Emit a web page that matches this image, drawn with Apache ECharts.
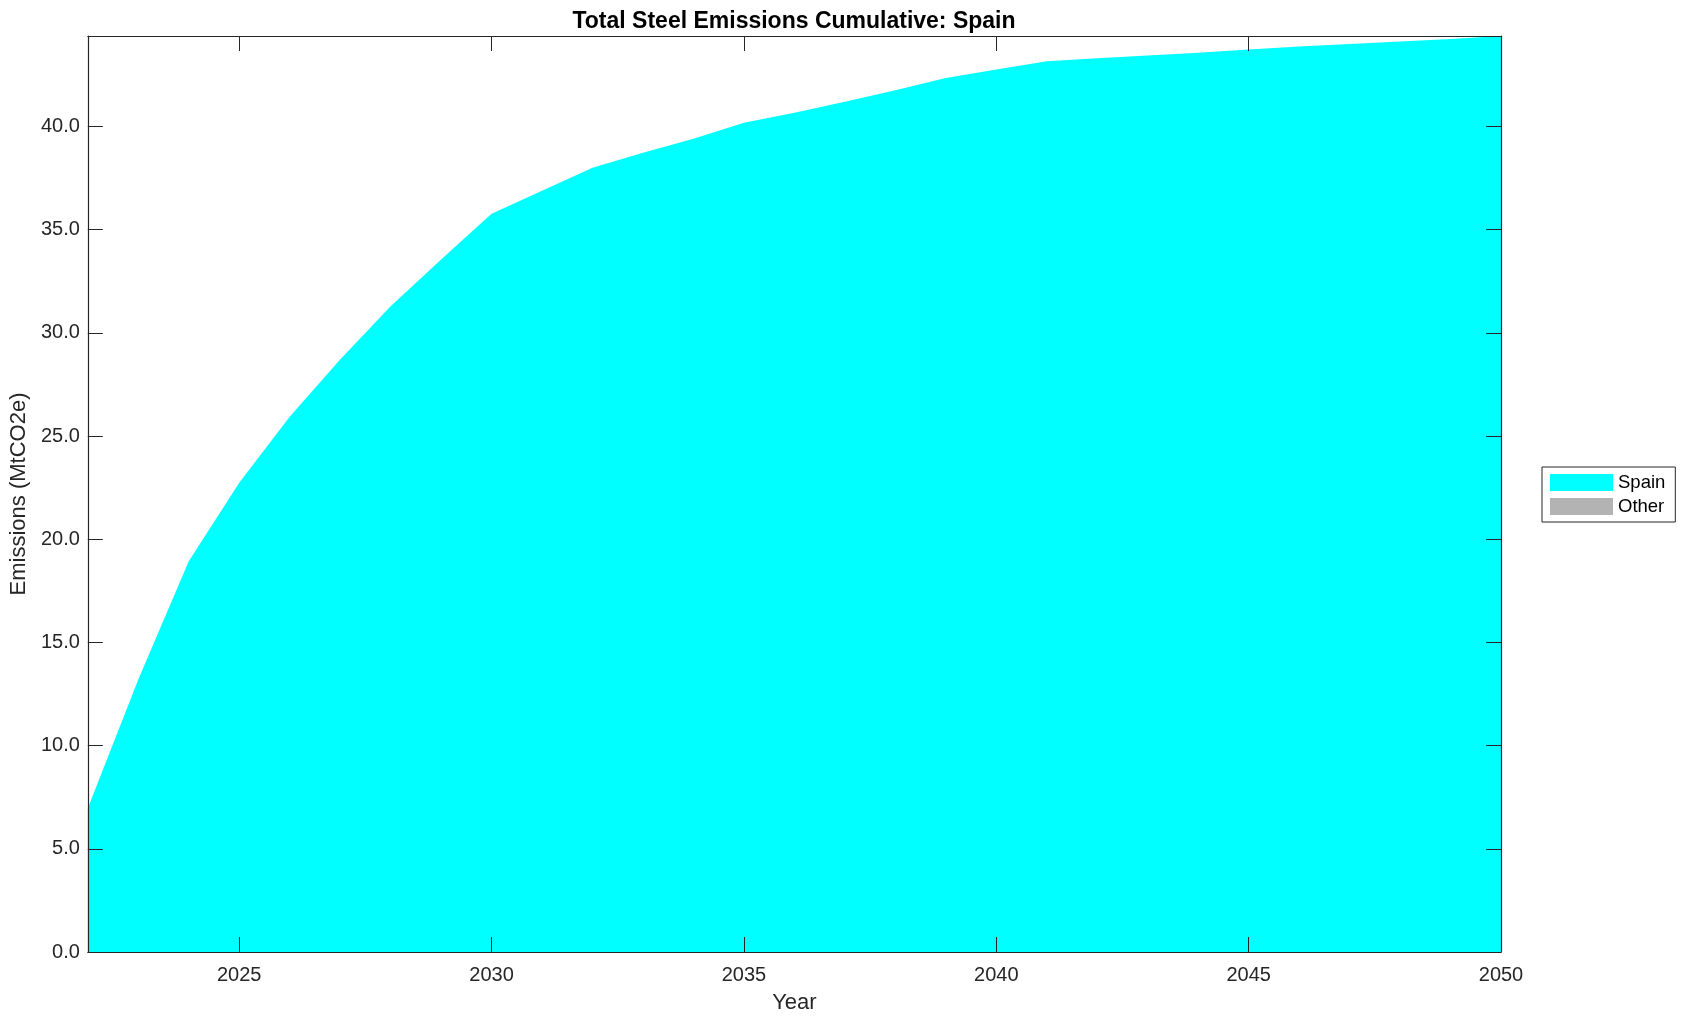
<!DOCTYPE html>
<html>
<head>
<meta charset="utf-8">
<script src="https://cdn.jsdelivr.net/npm/echarts@6/dist/echarts.min.js"></script>
<style>
  html, body { margin: 0; padding: 0; background: #ffffff; }
  #chart { width: 1687px; height: 1021px; }
</style>
</head>
<body>
<div id="chart"></div>
<script>
// ---- data ----
const years = [2022, 2023, 2024, 2025, 2026, 2027, 2028, 2029, 2030, 2031, 2032, 2033, 2034, 2035,
               2036, 2037, 2038, 2039, 2040, 2041, 2042, 2043, 2044, 2045, 2046, 2047, 2048, 2049, 2050];
const spain = [6.97, 13.2, 18.93, 22.73, 25.93, 28.71, 31.29, 33.55, 35.77, 36.88, 38.0, 38.72, 39.40, 40.18,
               40.66, 41.2, 41.75, 42.34, 42.76, 43.16, 43.3, 43.44, 43.57, 43.73, 43.87, 43.99, 44.11, 44.24, 44.38];
const other = [0, 0, 0, 0, 0, 0, 0, 0, 0, 0, 0, 0, 0, 0,
               0, 0, 0, 0, 0, 0, 0, 0, 0, 0, 0, 0, 0, 0, 0];
const xTicks = [2025, 2030, 2035, 2040, 2045, 2050];
const yTicks = [0, 5, 10, 15, 20, 25, 30, 35, 40];
const titleText = 'Total Steel Emissions Cumulative: Spain';
const xName = 'Year';
const yName = 'Emissions (MtCO2e)';

// ---- chart ----
const FONT = '"Liberation Sans", Arial, Helvetica, sans-serif';
const AX = '#262626';
const totals = spain.map((v, i) => v + other[i]);
const yMax = Math.max(...totals);
const xMin = years[0], xMax = years[years.length - 1];

const chart = echarts.init(document.getElementById('chart'), null, { renderer: 'canvas' });

const tickStyle = { show: true, inside: true, length: 15, lineStyle: { color: AX, width: 1 } };
const lineStyle = { show: true, onZero: false, lineStyle: { color: AX, width: 1.2 } };

chart.setOption({
  backgroundColor: '#ffffff',
  animation: false,
  textStyle: { fontFamily: FONT },
  title: {
    text: titleText,
    left: 794,
    textAlign: 'center',
    top: 10,
    padding: 0,
    textStyle: { fontFamily: FONT, fontSize: 23, fontWeight: 'bold', color: '#000000' }
  },
  legend: {
    orient: 'vertical',
    left: 1542,
    top: 467,
    padding: [6, 10, 6, 8],
    itemWidth: 63,
    itemHeight: 17,
    itemGap: 5,
    icon: 'rect',
    borderColor: AX,
    borderWidth: 1,
    backgroundColor: '#ffffff',
    textStyle: { fontFamily: FONT, fontSize: 18.5, color: '#000000' },
    data: ['Spain', 'Other']
  },
  grid: { left: 87, right: 186, top: 36, bottom: 69, containLabel: false },
  xAxis: [
    {
      type: 'value', min: xMin, max: xMax, position: 'bottom', z: 10,
      name: xName, nameLocation: 'middle', nameGap: 40,
      nameTextStyle: { fontFamily: FONT, fontSize: 22, color: AX },
      axisLine: lineStyle,
      axisTick: Object.assign({ customValues: xTicks }, tickStyle),
      axisLabel: { customValues: xTicks, fontFamily: FONT, fontSize: 20, color: AX, margin: 13,
                   formatter: v => String(v) },
      splitLine: { show: false }
    },
    {
      type: 'value', min: xMin, max: xMax, position: 'top', z: 10,
      axisLine: lineStyle,
      axisTick: Object.assign({ customValues: xTicks }, tickStyle),
      axisLabel: { show: false },
      splitLine: { show: false }
    }
  ],
  yAxis: [
    {
      type: 'value', min: 0, max: yMax, position: 'left', z: 10,
      name: yName, nameLocation: 'middle', nameGap: 56, nameRotate: 90,
      nameTextStyle: { fontFamily: FONT, fontSize: 22, color: AX },
      axisLine: lineStyle,
      axisTick: Object.assign({ customValues: yTicks }, tickStyle),
      axisLabel: { customValues: yTicks, fontFamily: FONT, fontSize: 20, color: AX, margin: 8,
                   formatter: v => Number(v).toFixed(1) },
      splitLine: { show: false }
    },
    {
      type: 'value', min: 0, max: yMax, position: 'right', z: 10,
      axisLine: lineStyle,
      axisTick: Object.assign({ customValues: yTicks }, tickStyle),
      axisLabel: { show: false },
      splitLine: { show: false }
    }
  ],
  series: [
    {
      name: 'Spain', type: 'line', stack: 'total', z: 1,
      data: years.map((y, i) => [y, spain[i]]),
      symbol: 'none', showSymbol: false,
      lineStyle: { width: 0, color: '#00FFFF' },
      itemStyle: { color: '#00FFFF' },
      areaStyle: { color: '#00FFFF', opacity: 1 }
    },
    {
      name: 'Other', type: 'line', stack: 'total', z: 1,
      data: years.map((y, i) => [y, other[i]]),
      symbol: 'none', showSymbol: false,
      lineStyle: { width: 0, color: '#B3B3B3' },
      itemStyle: { color: '#B3B3B3' },
      areaStyle: { color: '#B3B3B3', opacity: 1 }
    }
  ]
});
</script>
</body>
</html>
